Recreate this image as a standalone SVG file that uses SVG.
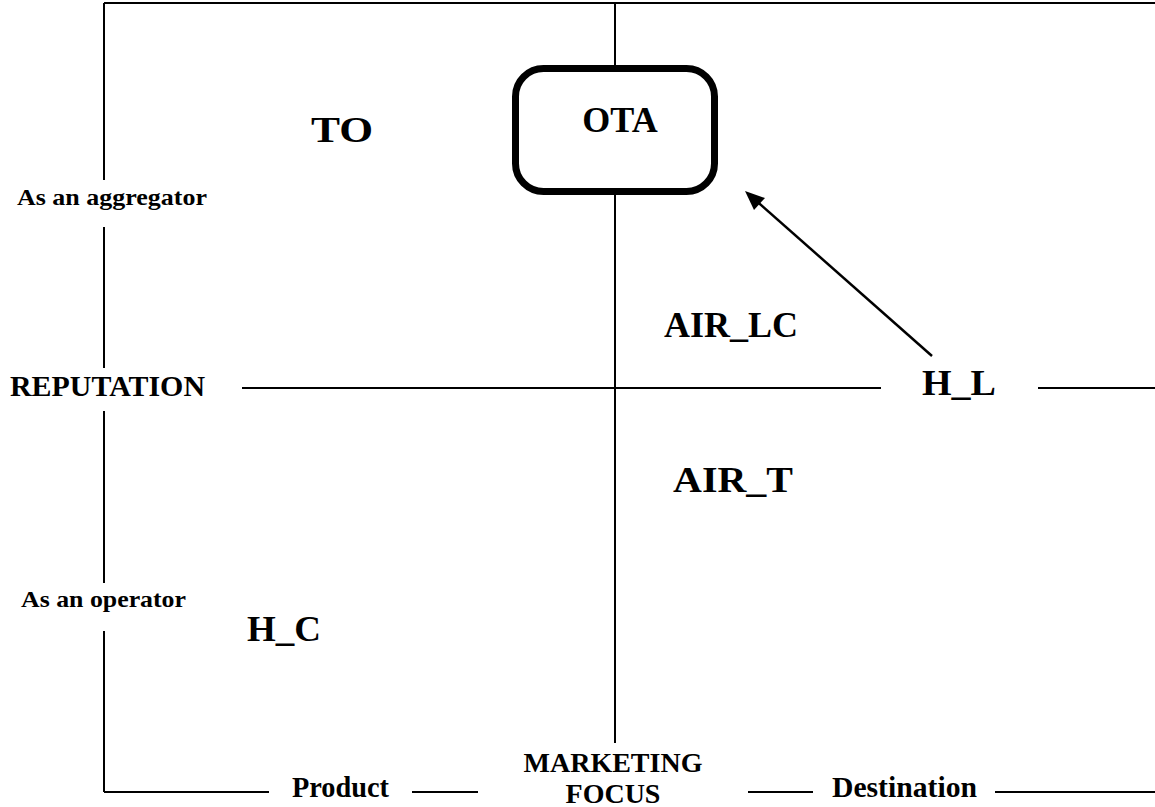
<svg xmlns="http://www.w3.org/2000/svg" width="1155" height="807" viewBox="0 0 1155 807">
<style>
.ln{stroke:#000;stroke-width:2;fill:none}
text{font-family:"Liberation Serif","Times New Roman",serif;font-weight:bold;fill:#000}
.big{font-size:36px}
.mid{font-size:28px}
.sm{font-size:24px}
</style>
<rect width="1155" height="807" fill="#fff"/>
<g id="connectors">
<path class="ln" d="M104,3 H1155"/>
<path class="ln" d="M104,3 V180 M104,227 V368 M104,411 V583 M104,631 V792"/>
<path class="ln" d="M104,792 H269 M412,792 H478 M748,792 H813 M995,792 H1155"/>
<path class="ln" d="M615,3 V65 M615,195 V743"/>
<path class="ln" d="M242,388 H881 M1038,388 H1155"/>
<line x1="932" y1="356" x2="752" y2="197" stroke="#000" stroke-width="2.5"/>
<path d="M745,191 L765,198 L754,210 z" fill="#000"/>
</g>
<g id="OTA">
<rect x="515.5" y="68.5" width="199" height="123" rx="28" ry="28" fill="#fff" stroke="#000" stroke-width="7"/>
<text class="big" x="620" y="132" text-anchor="middle">OTA</text>
</g>
<g id="TO"><text class="big" x="342" y="142" text-anchor="middle" textLength="62" lengthAdjust="spacingAndGlyphs">TO</text></g>
<g id="AIR_LC"><text class="big" x="731" y="337" text-anchor="middle">AIR_LC</text></g>
<g id="H_L"><text class="big" x="922" y="395" textLength="74" lengthAdjust="spacingAndGlyphs">H_L</text></g>
<g id="AIR_T"><text class="big" x="673" y="492" textLength="120" lengthAdjust="spacingAndGlyphs">AIR_T</text></g>
<g id="H_C"><text class="big" x="247" y="641" textLength="74" lengthAdjust="spacingAndGlyphs">H_C</text></g>
<g id="aggregator"><text class="sm" x="17" y="205" textLength="190" lengthAdjust="spacingAndGlyphs">As an aggregator</text></g>
<g id="reputation"><text style="font-size:29px" x="10" y="396" textLength="195" lengthAdjust="spacingAndGlyphs">REPUTATION</text></g>
<g id="operator"><text class="sm" x="21" y="607" textLength="165" lengthAdjust="spacingAndGlyphs">As an operator</text></g>
<g id="product"><text style="font-size:30px" x="292" y="797" textLength="97" lengthAdjust="spacingAndGlyphs">Product</text></g>
<g id="focus">
<text class="mid" x="613" y="772" text-anchor="middle">MARKETING</text>
<text class="mid" x="613" y="803" text-anchor="middle">FOCUS</text>
</g>
<g id="destination"><text style="font-size:30px" x="832" y="797" textLength="145" lengthAdjust="spacingAndGlyphs">Destination</text></g>
</svg>
